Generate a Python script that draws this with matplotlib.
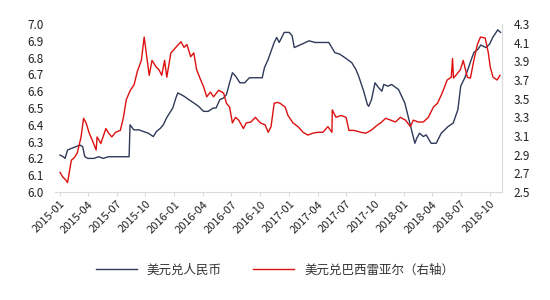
import matplotlib
matplotlib.use("Agg")
import matplotlib.pyplot as plt
from matplotlib.font_manager import FontProperties
import pandas as pd

plt.rcParams['font.family'] = ['Noto Sans CJK SC', 'DejaVu Sans']

cny_dates = ["2015-01-02","2015-01-12","2015-01-18","2015-01-26","2015-02-08","2015-02-22","2015-03-06","2015-03-15",
             "2015-03-22","2015-04-01","2015-04-20","2015-05-05","2015-05-20","2015-06-05","2015-06-20","2015-07-05",
             "2015-07-20","2015-08-10","2015-08-13","2015-08-25","2015-09-10","2015-09-25","2015-10-10","2015-10-26",
             "2015-11-05","2015-11-18","2015-11-27","2015-12-07","2015-12-17","2015-12-27","2016-01-06","2016-01-12",
             "2016-01-22","2016-02-01","2016-02-16","2016-03-03","2016-03-18","2016-04-03","2016-04-18","2016-05-04",
             "2016-05-13","2016-05-25","2016-06-06","2016-06-15","2016-06-25","2016-07-04","2016-07-14","2016-07-28",
             "2016-08-12","2016-08-27","2016-09-21","2016-10-07","2016-10-14","2016-10-26","2016-11-14","2016-11-22",
             "2016-11-30","2016-12-16","2017-01-01","2017-01-10","2017-01-17","2017-01-29","2017-02-10","2017-03-05",
             "2017-03-24","2017-04-15","2017-05-07","2017-05-26","2017-06-11","2017-06-27","2017-07-19","2017-08-01",
             "2017-08-10","2017-08-26","2017-09-07","2017-09-11","2017-09-20","2017-10-01","2017-10-13","2017-10-23",
             "2017-10-29","2017-11-11","2017-11-23","2017-12-15","2018-01-04","2018-01-20","2018-02-05","2018-02-11",
             "2018-02-20","2018-03-04","2018-03-13","2018-03-29","2018-04-14","2018-04-30","2018-05-22","2018-06-07",
             "2018-06-22","2018-07-01","2018-07-14","2018-07-24","2018-08-02","2018-08-12","2018-08-25","2018-09-03",
             "2018-09-19","2018-10-01","2018-10-11","2018-10-27","2018-11-05"]
cny_values = [6.22,6.21,6.20,6.25,6.26,6.27,6.28,6.27,
              6.21,6.20,6.20,6.21,6.20,6.21,6.21,6.21,
              6.21,6.21,6.40,6.37,6.37,6.36,6.35,6.33,
              6.36,6.38,6.40,6.44,6.47,6.50,6.56,6.59,
              6.58,6.57,6.55,6.53,6.51,6.48,6.48,6.50,
              6.50,6.55,6.56,6.58,6.65,6.71,6.69,6.65,
              6.65,6.68,6.68,6.68,6.74,6.79,6.89,6.92,
              6.89,6.95,6.95,6.93,6.86,6.87,6.88,6.90,
              6.89,6.89,6.89,6.83,6.82,6.80,6.77,6.73,
              6.69,6.60,6.52,6.51,6.55,6.65,6.62,6.60,
              6.64,6.63,6.64,6.61,6.53,6.41,6.29,6.32,
              6.35,6.33,6.34,6.29,6.29,6.35,6.39,6.41,
              6.49,6.63,6.68,6.73,6.78,6.83,6.85,6.875,
              6.86,6.88,6.92,6.965,6.95]

brl_dates = ["2015-01-02","2015-01-11","2015-01-20","2015-01-26","2015-02-07","2015-02-17","2015-02-26","2015-03-10",
             "2015-03-18","2015-03-26","2015-04-05","2015-04-14","2015-04-27","2015-04-30","2015-05-12","2015-05-28",
             "2015-06-06","2015-06-16","2015-06-28","2015-07-13","2015-07-23","2015-08-01","2015-08-14","2015-08-26",
             "2015-09-05","2015-09-18","2015-09-27","2015-10-13","2015-10-22","2015-11-04","2015-11-13","2015-11-22",
             "2015-12-01","2015-12-08","2015-12-21","2016-01-06","2016-01-22","2016-02-01","2016-02-10","2016-02-22",
             "2016-03-03","2016-03-12","2016-03-25","2016-04-03","2016-04-13","2016-04-25","2016-05-05","2016-05-21",
             "2016-06-06","2016-06-15","2016-06-25","2016-07-04","2016-07-14","2016-07-24","2016-08-08","2016-08-17",
             "2016-09-01","2016-09-15","2016-10-01","2016-10-16","2016-10-26","2016-11-04","2016-11-14","2016-11-24",
             "2016-12-03","2016-12-19","2016-12-28","2017-01-13","2017-01-29","2017-02-14","2017-03-01","2017-03-17",
             "2017-04-02","2017-04-18","2017-05-04","2017-05-17","2017-05-18","2017-05-30","2017-06-15","2017-07-01",
             "2017-07-10","2017-07-26","2017-08-17","2017-09-02","2017-09-18","2017-10-10","2017-10-19","2017-11-04",
             "2017-11-20","2017-12-05","2017-12-21","2018-01-06","2018-01-22","2018-01-31","2018-02-16","2018-03-04",
             "2018-03-20","2018-04-05","2018-04-18","2018-05-03","2018-05-19","2018-06-01","2018-06-05","2018-06-08",
             "2018-06-30","2018-07-09","2018-07-22","2018-08-01","2018-08-10","2018-08-23","2018-09-02","2018-09-17",
             "2018-09-27","2018-10-03","2018-10-12","2018-10-25","2018-11-03"]
brl_values = [2.71,2.66,2.63,2.60,2.84,2.87,2.92,3.09,
              3.29,3.24,3.13,3.06,2.95,3.09,3.02,3.18,
              3.13,3.09,3.14,3.16,3.30,3.49,3.59,3.65,
              3.79,3.91,4.16,3.75,3.91,3.84,3.81,3.75,
              3.91,3.73,3.99,4.05,4.11,4.05,4.08,3.95,
              3.99,3.81,3.70,3.63,3.52,3.57,3.52,3.59,
              3.56,3.45,3.41,3.24,3.30,3.27,3.18,3.24,
              3.25,3.30,3.24,3.22,3.14,3.20,3.45,3.46,
              3.45,3.41,3.32,3.24,3.20,3.14,3.11,3.13,
              3.14,3.14,3.20,3.14,3.38,3.30,3.32,3.30,
              3.16,3.16,3.14,3.13,3.16,3.22,3.24,3.29,
              3.27,3.25,3.30,3.27,3.20,3.27,3.25,3.25,
              3.30,3.41,3.45,3.56,3.70,3.73,3.93,3.72,
              3.81,3.91,3.73,3.72,3.88,4.08,4.16,4.15,
              3.99,3.84,3.73,3.70,3.75]

tick_labels = ["2015-01","2015-04","2015-07","2015-10","2016-01","2016-04","2016-07","2016-10",
               "2017-01","2017-04","2017-07","2017-10","2018-01","2018-04","2018-07","2018-10"]
left_ticks = [6.0,6.1,6.2,6.3,6.4,6.5,6.6,6.7,6.8,6.9,7.0]
right_ticks = [2.5,2.7,2.9,3.1,3.3,3.5,3.7,3.9,4.1,4.3]
series_names = ["美元兑人民币", "美元兑巴西雷亚尔（右轴）"]

fig = plt.figure(figsize=(5.5, 3.0), dpi=100)
ax = fig.add_axes([0.100, 0.36, 0.813, 0.56])
ax2 = ax.twinx()

blue = "#2f3a5a"
red = "#dd1010"
l1, = ax.plot(pd.to_datetime(cny_dates), cny_values, color=blue, lw=1.0)
l2, = ax2.plot(pd.to_datetime(brl_dates), brl_values, color=red, lw=1.0)

ax.set_ylim(6.0, 7.0)
ax2.set_ylim(2.5, 4.3)
ax.set_yticks(left_ticks)
ax.set_yticklabels([f"{v:.1f}" for v in left_ticks])
ax2.set_yticks(right_ticks)
ax2.set_yticklabels([f"{v:.1f}" for v in right_ticks])
ax.set_xlim(pd.Timestamp("2014-12-17"), pd.Timestamp("2018-11-10"))
tick_dates = pd.to_datetime([t + "-01" for t in tick_labels])
ax.set_xticks(tick_dates)
ax.set_xticklabels(tick_labels, rotation=45, ha="right", rotation_mode="anchor")

for a in (ax, ax2):
    for s in ("top", "left"):
        a.spines[s].set_visible(False)
    a.spines["bottom"].set_color("#d9d9d9")
    a.spines["right"].set_color("#d9d9d9")
ax2.spines["bottom"].set_visible(False)
ax.spines["right"].set_visible(False)
ax.tick_params(axis="y", length=0, labelsize=8.5, pad=8, colors="#222222")
ax2.tick_params(axis="y", length=0, labelsize=8.5, pad=8, colors="#222222")
ax.tick_params(axis="x", length=3, color="#d9d9d9", labelsize=8, pad=2, labelcolor="#222222")

leg_font = FontProperties(family=['Noto Sans CJK SC', 'DejaVu Sans'], size=9, weight='light')
leg = fig.legend([l1, l2], series_names, loc="center", bbox_to_anchor=(0.5, 0.1), ncol=2,
                 frameon=False, prop=leg_font, handlelength=3.3, columnspacing=2.5, handletextpad=0.8)
for t in leg.get_texts():
    t.set_color("#333333")

fig.savefig("out.png", dpi=100)
